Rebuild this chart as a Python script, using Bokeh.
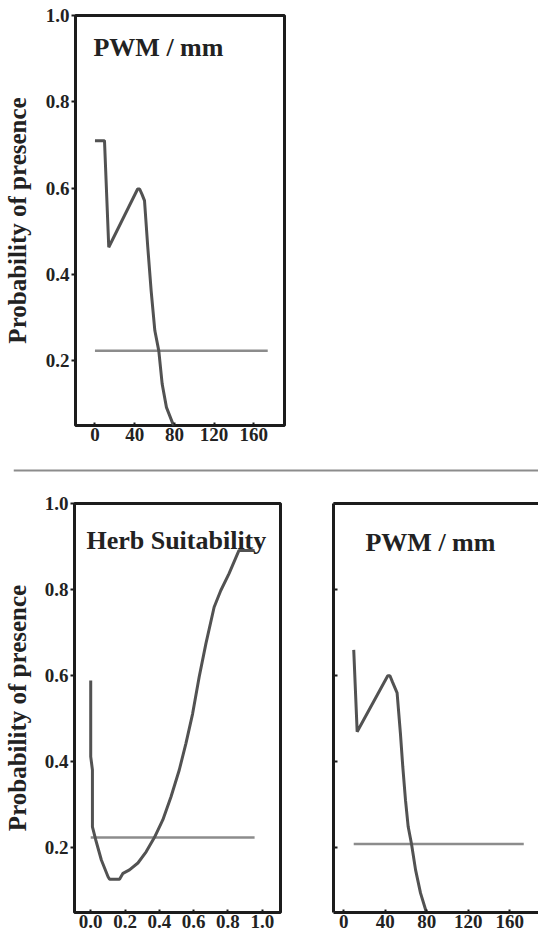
from bokeh.plotting import figure
from bokeh.layouts import column, row
from bokeh.models import (Label, LinearAxis, FixedTicker, CustomJSTickFormatter,
                          PrintfTickFormatter, Range1d, Span)
from bokeh.embed import file_html
from bokeh.resources import INLINE

# ---------------- data ----------------
# top panel: PWM / mm
pwm_top_x = [0, 9.6, 13.9, 43.0, 45.0, 47.5, 49.9, 53.2, 56.6, 60.3, 64.3, 67.7, 72.0, 78.8, 80.3]
pwm_top_y = [0.71, 0.71, 0.463, 0.598, 0.598, 0.585, 0.571, 0.463, 0.362, 0.27, 0.223, 0.146, 0.092, 0.052, 0.049]
thr_top_x = [0, 174]
thr_top_y = [0.223, 0.223]

# bottom-left panel: Herb Suitability
herb_x = [0.0, 0.0, 0.01, 0.01, 0.029, 0.062, 0.101, 0.11, 0.168, 0.188, 0.226, 0.275,
          0.323, 0.371, 0.42, 0.468, 0.516, 0.555, 0.594, 0.632, 0.671, 0.719, 0.758,
          0.806, 0.864, 0.955]
herb_y = [0.589, 0.412, 0.381, 0.249, 0.219, 0.172, 0.133, 0.127, 0.127, 0.141, 0.149, 0.165,
          0.191, 0.224, 0.265, 0.319, 0.381, 0.443, 0.512, 0.597, 0.674, 0.759, 0.798,
          0.837, 0.891, 0.891]
thr_herb_x = [0.0, 0.955]
thr_herb_y = [0.224, 0.224]

# bottom-right panel: PWM / mm
pwm_r_x = [9.6, 12.9, 42.4, 44.5, 47.0, 51.4, 54.6, 56.9, 59.5, 62.1, 65.3, 69.2, 74.0, 79.7]
pwm_r_y = [0.66, 0.47, 0.60, 0.60, 0.585, 0.56, 0.466, 0.388, 0.311, 0.249, 0.209, 0.149, 0.095, 0.05]
thr_r_x = [9.6, 173.5]
thr_r_y = [0.209, 0.209]

y_ticks = [0.2, 0.4, 0.6, 0.8, 1.0]
pwm_ticks = [0, 40, 80, 120, 160]
herb_ticks = [0.0, 0.2, 0.4, 0.6, 0.8, 1.0]

y_label = "Probability of presence"
title_pwm = "PWM / mm"
title_herb = "Herb Suitability"

# ---------------- style ----------------
FONT = "Liberation Serif"
FRAME = "#1c1c1c"
TEXT = "#222222"
CURVE = "#525252"
THR = "#8c8c8c"
TICK_FS = "19px"


def base_fig(width, height, xr, yr, mbl, mbr, mbt, mbb):
    p = figure(width=width, height=height, x_range=Range1d(*xr), y_range=Range1d(*yr),
               output_backend="svg", toolbar_location=None, frame_align=False,
               min_border_left=mbl, min_border_right=mbr,
               min_border_top=mbt, min_border_bottom=mbb,
               background_fill_color="white", border_fill_color="white")
    p.grid.visible = False
    for ax in (p.xaxis[0], p.yaxis[0]):
        ax.major_label_text_font = FONT
        ax.major_label_text_font_style = "bold"
        ax.major_label_text_font_size = TICK_FS
        ax.major_label_text_color = TEXT
        ax.minor_tick_line_color = None
        ax.major_tick_line_color = FRAME
        ax.major_tick_line_width = 2
    p.xaxis.major_tick_in = 3
    p.xaxis.major_tick_out = 0
    p.xaxis.major_label_standoff = 2
    p.yaxis.ticker = FixedTicker(ticks=y_ticks)
    return p


def add_ylabel(p, standoff):
    p.yaxis.axis_label = y_label
    p.yaxis.axis_label_text_font = FONT
    p.yaxis.axis_label_text_font_style = "bold"
    p.yaxis.axis_label_text_font_size = "25px"
    p.yaxis.axis_label_text_color = TEXT
    p.yaxis.axis_label_standoff = standoff
    p.yaxis.major_tick_in = 0
    p.yaxis.major_tick_out = 4
    p.yaxis.major_label_standoff = 2
    p.yaxis.formatter = PrintfTickFormatter(format="%.1f")


def add_title(p, x, y, text):
    p.add_layout(Label(x=x, y=y, text=text, text_font=FONT, text_font_style="bold",
                       text_font_size="26px", text_color=TEXT,
                       text_align="left", text_baseline="alphabetic"))


# ---------------- top panel ----------------
p1 = base_fig(294, 455, (-19.6, 190.9), (0.05, 1.0), 75, 10, 15, 30)
p1.outline_line_color = FRAME
p1.outline_line_width = 3
p1.xaxis.axis_line_color = None
p1.yaxis.axis_line_color = None
p1.xaxis.ticker = FixedTicker(ticks=pwm_ticks)
p1.xaxis.formatter = PrintfTickFormatter(format="%d")
add_ylabel(p1, 12)
p1.line(thr_top_x, thr_top_y, line_color=THR, line_width=2.5)
p1.line(pwm_top_x, pwm_top_y, line_color=CURVE, line_width=3)
add_title(p1, -1.5, 0.925, title_pwm)

# ---------------- separator (thin figure with a horizontal rule) ----------------
sep = figure(width=538, height=32, x_range=Range1d(0, 1), y_range=Range1d(0, 1),
             output_backend="svg", toolbar_location=None, frame_align=False,
             min_border_left=13, min_border_right=0, min_border_top=0, min_border_bottom=0,
             background_fill_color="white", border_fill_color="white")
sep.axis.visible = False
sep.grid.visible = False
sep.outline_line_color = None
sep.add_layout(Span(location=0.53, dimension="width", line_color="#8c8c8c", line_width=2))

# ---------------- bottom-left panel ----------------
p2 = base_fig(300, 447, (-0.0945, 1.106), (0.05, 1.0), 73, 20, 16, 22)
p2.outline_line_color = FRAME
p2.outline_line_width = 3
p2.xaxis.axis_line_color = None
p2.yaxis.axis_line_color = None
p2.xaxis.ticker = FixedTicker(ticks=herb_ticks)
p2.xaxis.formatter = PrintfTickFormatter(format="%.1f")
add_ylabel(p2, 11)
p2.line(thr_herb_x, thr_herb_y, line_color=THR, line_width=2.5)
p2.line(herb_x, herb_y, line_color=CURVE, line_width=3)
add_title(p2, -0.025, 0.914, title_herb)

# ---------------- bottom-right panel ----------------
p3 = base_fig(238, 447, (-9.9, 187.7), (0.05, 1.0), 33, 0, 16, 22)
p3.outline_line_color = None
p3.xaxis.axis_line_color = FRAME
p3.xaxis.axis_line_width = 3
p3.yaxis.axis_line_color = FRAME
p3.yaxis.axis_line_width = 3
p3.yaxis.major_tick_in = 4
p3.yaxis.major_tick_out = 0
p3.yaxis.formatter = CustomJSTickFormatter(code="return ''")
p3.xaxis.ticker = FixedTicker(ticks=pwm_ticks)
p3.xaxis.formatter = PrintfTickFormatter(format="%d")
top_ax = LinearAxis(axis_line_color=FRAME, axis_line_width=3,
                    major_tick_in=0, major_tick_out=0, minor_tick_line_color=None,
                    major_tick_line_color=None,
                    formatter=CustomJSTickFormatter(code="return ''"))
p3.add_layout(top_ax, "above")
p3.line(thr_r_x, thr_r_y, line_color=THR, line_width=2.5)
p3.line(pwm_r_x, pwm_r_y, line_color=CURVE, line_width=3)
add_title(p3, 20.9, 0.91, title_pwm)

layout = column(p1, sep, row(p2, p3, spacing=0), spacing=0)

open("out.html", "w").write(file_html(layout, INLINE))
